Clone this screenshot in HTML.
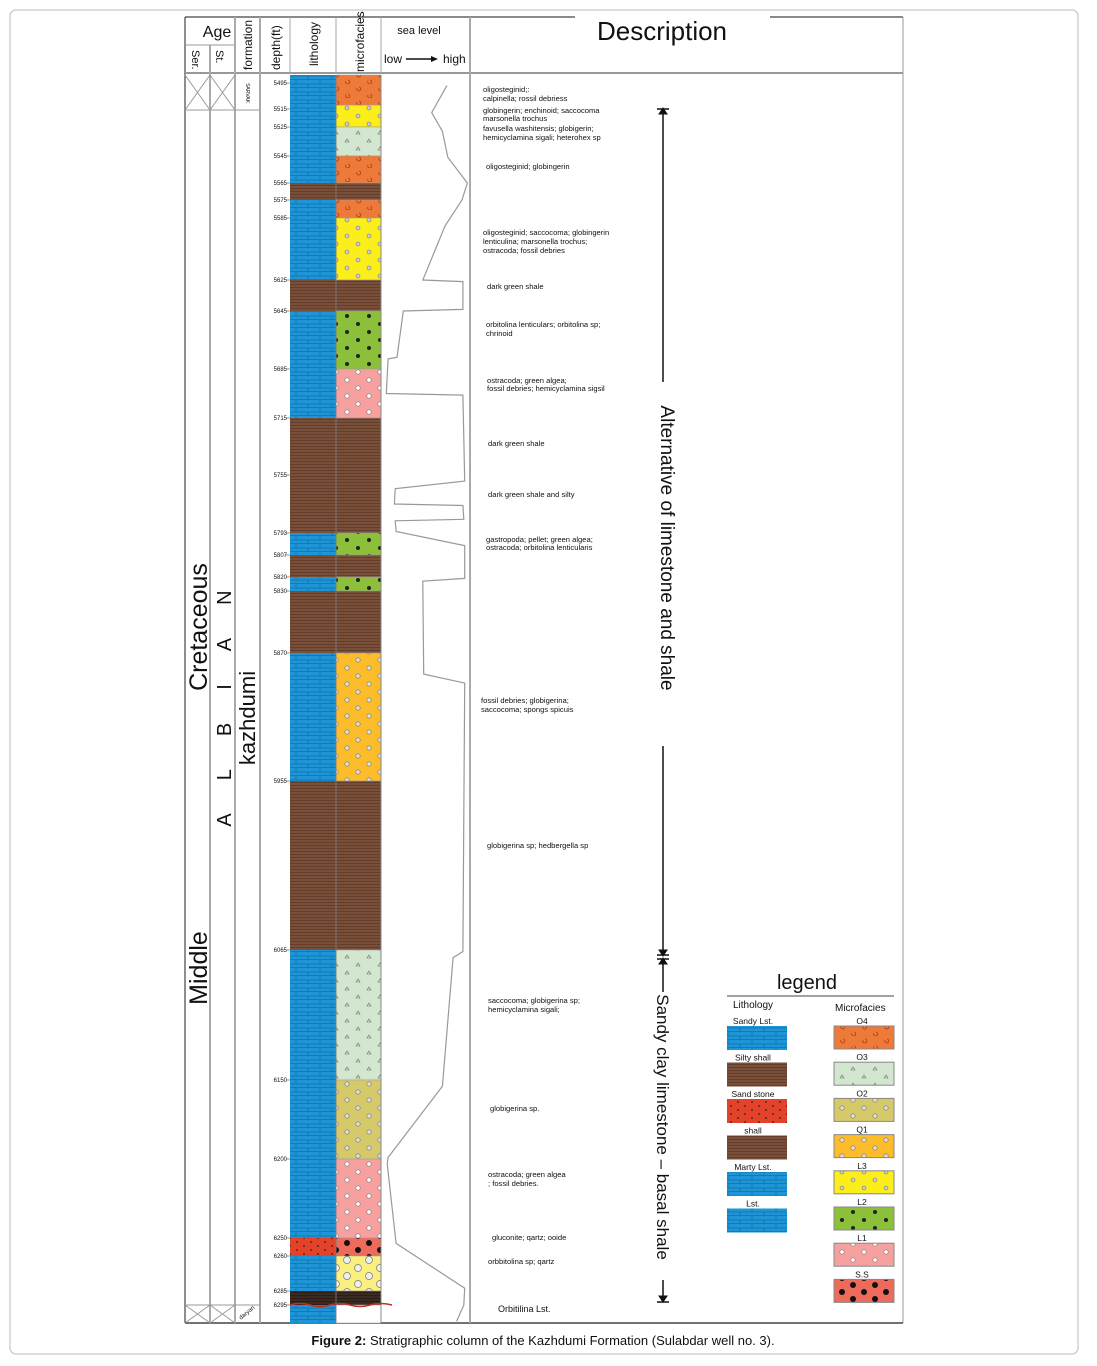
<!DOCTYPE html>
<html><head><meta charset="utf-8">
<style>
html,body{margin:0;padding:0;background:#fff;}
body{width:1097px;height:1361px;position:relative;overflow:hidden;font-family:"Liberation Sans",sans-serif;}
svg text{font-family:"Liberation Sans",sans-serif;}
</style></head>
<body>
<svg id="chart" width="1097" height="1361" viewBox="0 0 1097 1361" xmlns="http://www.w3.org/2000/svg">
<defs>
<pattern id="pBrick" width="24" height="8" patternUnits="userSpaceOnUse"><rect width="24" height="8" fill="#1e95d6"/><path d="M0 7.5H24M8 0V4M20 4V8M0 4H24" stroke="#1470a8" stroke-width="0.8" fill="none"/></pattern>
<pattern id="pShale" width="10" height="3" patternUnits="userSpaceOnUse"><rect width="10" height="3" fill="#7a4f3a"/><path d="M0 2.5H10" stroke="#5a3626" stroke-width="0.7"/></pattern>
<pattern id="pDark" width="10" height="3" patternUnits="userSpaceOnUse"><rect width="10" height="3" fill="#3a2a22"/><path d="M0 2.5H10" stroke="#221812" stroke-width="0.7"/></pattern>
<pattern id="pSand" width="14" height="8" patternUnits="userSpaceOnUse"><rect width="14" height="8" fill="#e4432a"/><circle cx="3" cy="2" r="0.9" fill="#222"/><circle cx="10" cy="6" r="0.9" fill="#222"/></pattern>
<pattern id="pO4" width="22" height="14" patternUnits="userSpaceOnUse"><rect width="22" height="14" fill="#ee7a3a"/><path d="M5 4a2 2 0 1 0 2 -1M16 11a2 2 0 1 0 2 -1" stroke="#b03a14" stroke-width="0.8" fill="none"/></pattern>
<pattern id="pO3" width="22" height="16" patternUnits="userSpaceOnUse"><rect width="22" height="16" fill="#d3e6cf"/><path d="M4 6l2 -3l2 3zM15 14l2 -3l2 3z" stroke="#666" stroke-width="0.6" fill="none"/></pattern>
<pattern id="pO2" width="22" height="16" patternUnits="userSpaceOnUse"><rect width="22" height="16" fill="#d6c96a"/><circle cx="6" cy="4" r="2.2" fill="#ddd" stroke="#777" stroke-width="0.6"/><circle cx="17" cy="12" r="2.2" fill="#ddd" stroke="#777" stroke-width="0.6"/></pattern>
<pattern id="pQ1" width="22" height="16" patternUnits="userSpaceOnUse"><rect width="22" height="16" fill="#fdbc2a"/><circle cx="6" cy="4" r="2.2" fill="#ddd" stroke="#777" stroke-width="0.6"/><circle cx="17" cy="12" r="2.2" fill="#ddd" stroke="#777" stroke-width="0.6"/></pattern>
<pattern id="pL3" width="22" height="16" patternUnits="userSpaceOnUse"><rect width="22" height="16" fill="#fbee1a"/><circle cx="6" cy="4" r="2" fill="#ccc" stroke="#777" stroke-width="0.6"/><circle cx="17" cy="12" r="2" fill="#ccc" stroke="#777" stroke-width="0.6"/></pattern>
<pattern id="pL2" width="22" height="16" patternUnits="userSpaceOnUse"><rect width="22" height="16" fill="#8cc03a"/><circle cx="6" cy="4" r="2" fill="#222"/><circle cx="17" cy="12" r="2" fill="#222"/></pattern>
<pattern id="pL1" width="22" height="16" patternUnits="userSpaceOnUse"><rect width="22" height="16" fill="#f6a0a0"/><circle cx="6" cy="4" r="2.2" fill="#fff" stroke="#777" stroke-width="0.6"/><circle cx="17" cy="12" r="2.2" fill="#fff" stroke="#777" stroke-width="0.6"/></pattern>
<pattern id="pSS" width="22" height="14" patternUnits="userSpaceOnUse"><rect width="22" height="14" fill="#ee6a5a"/><circle cx="6" cy="4" r="3" fill="#111"/><circle cx="17" cy="11" r="3" fill="#111"/></pattern>
<pattern id="pOol" width="22" height="16" patternUnits="userSpaceOnUse"><rect width="22" height="16" fill="#fbef80"/><circle cx="6" cy="4" r="3.5" fill="#eee" stroke="#777" stroke-width="0.7"/><circle cx="17" cy="12" r="3.5" fill="#eee" stroke="#777" stroke-width="0.7"/></pattern>
</defs>
<rect x="10" y="10" width="1068" height="1344" rx="6" fill="none" stroke="#bbb" stroke-width="1"/>
<g id="frame" stroke="#444" fill="none">
<line x1="185" y1="17" x2="575" y2="17" stroke-width="1.2"/>
<line x1="770" y1="17" x2="903" y2="17" stroke-width="1.2"/>
<line x1="185" y1="17" x2="185" y2="1323" stroke-width="1.2"/>
<line x1="903" y1="17" x2="903" y2="1323" stroke="#999"/>
<line x1="185" y1="1323" x2="903" y2="1323" stroke-width="1.5"/>
<line x1="185" y1="73" x2="903" y2="73" stroke="#999" stroke-width="2"/>
<line x1="185" y1="45" x2="235" y2="45" stroke="#999"/>
<line x1="210" y1="45" x2="210" y2="1323" stroke="#aaa" stroke-width="2"/>
<line x1="235" y1="17" x2="235" y2="1323" stroke="#aaa" stroke-width="2"/>
<line x1="260" y1="17" x2="260" y2="1323" stroke="#aaa" stroke-width="2"/>
<line x1="290" y1="17" x2="290" y2="73" stroke="#aaa"/>
<line x1="336" y1="17" x2="336" y2="73" stroke="#aaa"/>
<line x1="381" y1="17" x2="381" y2="73" stroke="#aaa"/>
<line x1="470" y1="17" x2="470" y2="1323" stroke="#aaa" stroke-width="2"/>
<line x1="185" y1="110" x2="260" y2="110" stroke="#999"/>
<line x1="185" y1="1305" x2="260" y2="1305" stroke="#999"/>
<path d="M185 75L210 110M210 75L185 110M210 75L235 110M235 75L210 110M185 1305L210 1323M210 1305L185 1323M210 1305L235 1323M235 1305L210 1323" stroke="#999"/>
</g>
<g fill="#111">
<text x="217" y="37" font-size="16" text-anchor="middle">Age</text>
<text transform="translate(192,50) rotate(90)" font-size="11">Ser.</text>
<text transform="translate(216,50) rotate(90)" font-size="11">St.</text>
<text transform="translate(252,70) rotate(-90)" font-size="12">formation</text>
<text transform="translate(280,70) rotate(-90)" font-size="12">depth(ft)</text>
<text transform="translate(318,66) rotate(-90)" font-size="12">lithology</text>
<text transform="translate(364,72) rotate(-90)" font-size="12">microfacies</text>
<text x="419" y="34" font-size="11" text-anchor="middle">sea level</text>
<text x="384" y="63" font-size="12">low</text>
<line x1="406" y1="59" x2="434" y2="59" stroke="#111" stroke-width="1.5"/>
<path d="M431 56L438 59L431 62Z" fill="#111"/>
<text x="443" y="63" font-size="12">high</text>
<text x="662" y="40" font-size="26" text-anchor="middle">Description</text>
</g>
<g fill="#111">
<text transform="translate(207,627) rotate(-90)" font-size="25" text-anchor="middle">Cretaceous</text>
<text transform="translate(207,968) rotate(-90)" font-size="25" text-anchor="middle">Middle</text>
<text transform="translate(231,692) rotate(-90)" font-size="20" text-anchor="middle" letter-spacing="33">ALBIAN</text>
<text transform="translate(255,718) rotate(-90)" font-size="22" text-anchor="middle">kazhdumi</text>
<text transform="translate(246,93) rotate(90)" font-size="5" text-anchor="middle">SARVAK</text>
<text transform="translate(248,1314) rotate(-40)" font-size="6" text-anchor="middle">daryan</text>
</g>
<g id="layers"></g>
<g id="ticks"></g>
<g id="sea"></g>
<g font-size="7.6" fill="#111">
<text x="483" y="92">oligosteginid;:</text><text x="483" y="101">calpinella; rossil debriess</text>
<text x="483" y="113">globingerin; enchinoid; saccocoma</text><text x="483" y="121">marsonella trochus</text><text x="483" y="131">favusella washitensis; globigerin;</text><text x="483" y="140">hemicyclamina sigali; heterohex sp</text>
<text x="486" y="169">oligosteginid; globingerin</text>
<text x="483" y="235">oligosteginid; saccocoma; globingerin</text><text x="483" y="244">lenticulina; marsonella trochus;</text><text x="483" y="253">ostracoda; fossil debries</text>
<text x="487" y="289">dark green shale</text>
<text x="486" y="327">orbitolina lenticulars; orbitolina sp;</text><text x="486" y="336">chrinoid</text>
<text x="487" y="383">ostracoda; green algea;</text><text x="487" y="391">fossil debries; hemicyclamina sigsil</text>
<text x="488" y="446">dark green shale</text>
<text x="488" y="497">dark green shale and silty</text>
<text x="486" y="542">gastropoda; pellet; green algea;</text><text x="486" y="550">ostracoda; orbitolina lenticularis</text>
<text x="481" y="703">fossil debries; globigerina;</text><text x="481" y="712">saccocoma; spongs spicuis</text>
<text x="487" y="848">globigerina sp; hedbergella sp</text>
<text x="488" y="1003">saccocoma; globigerina sp;</text><text x="488" y="1012">hemicyclamina sigali;</text>
<text x="490" y="1111">globigerina sp.</text>
<text x="488" y="1177">ostracoda; green algea</text><text x="488" y="1186">; fossil debries.</text>
<text x="492" y="1240">gluconite; qartz; ooide</text>
<text x="488" y="1264">orbbitolina sp; qartz</text>
<text x="498" y="1312" font-size="9">Orbitilina Lst.</text>
</g>
<g stroke="#111" fill="#111">
<line x1="663" y1="109" x2="663" y2="382" stroke-width="1.5"/>
<line x1="657" y1="109" x2="669" y2="109" stroke-width="1.5"/><path d="M659 114L663 108L667 114Z"/>
<line x1="663" y1="746" x2="663" y2="955" stroke-width="1.5"/>
<line x1="657" y1="955" x2="669" y2="955" stroke-width="1.5"/><path d="M659 950L663 956L667 950Z"/>
<line x1="657" y1="959" x2="669" y2="959" stroke-width="1.5"/><path d="M659 964L663 958L667 964Z"/>
<line x1="663" y1="959" x2="663" y2="992" stroke-width="1.5"/>
<line x1="663" y1="1280" x2="663" y2="1302" stroke-width="1.5"/>
<line x1="657" y1="1302" x2="669" y2="1302" stroke-width="1.5"/><path d="M659 1296L663 1302L667 1296Z"/>
<text transform="translate(661,548) rotate(90)" font-size="19" text-anchor="middle" stroke="none">Alternative of limestone and shale</text>
<text transform="translate(657,1127) rotate(90)" font-size="17" text-anchor="middle" stroke="none">Sandy clay limestone – basal shale</text>
</g>
<g fill="#111">
<text x="807" y="989" font-size="20" text-anchor="middle">legend</text>
<line x1="727" y1="996" x2="894" y2="996" stroke="#444" stroke-width="1"/>
<text x="733" y="1008" font-size="10">Lithology</text>
<text x="835" y="1011" font-size="10">Microfacies</text>
<g id="legLith"></g><g id="legMicro"></g>
</g>
<text x="543" y="1345" font-size="13" text-anchor="middle" fill="#111"><tspan font-weight="bold">Figure 2:</tspan> Stratigraphic column of the Kazhdumi Formation  (Sulabdar well no. 3).</text>
</svg>
<script>
// depth axis calibration (depth ft) - tick labels
const tickDepths=[5495,5515,5525,5545,5565,5575,5585,5625,5645,5685,5715,5755,5793,5807,5820,5830,5870,5955,6065,6150,6200,6250,6260,6285,6295];
// lithology intervals: top, bottom, type
const lithTop=[5488,5565,5575,5625,5645,5715,5793,5807,5820,5830,5870,5955,6065,6250,6260,6285,6295];
const lithBase=[5565,5575,5625,5645,5715,5793,5807,5820,5830,5870,5955,6065,6250,6260,6285,6295,6305];
const lithType=["lst","shale","lst","shale","lst","shale","lst","shale","lst","shale","lst","shale","lst","sand","lst","dark","lst"];
// microfacies intervals
const microTop=[5488,5512,5525,5545,5565,5575,5585,5625,5645,5685,5715,5793,5807,5820,5830,5870,5955,6065,6150,6200,6250,6260,6285,6295];
const microBase=[5512,5525,5545,5565,5575,5585,5625,5645,5685,5715,5793,5807,5820,5830,5870,5955,6065,6150,6200,6250,6260,6285,6295,6305];
const microType=["O4","L3","O3","O4","shale","O4","L3","shale","L2","L1","shale","L2","shale","L2","shale","Q1","shale","O3","O2","L1","SS","ool","dark","none"];
// sea level curve: depth and relative level (0 low .. 100 high)
const seaDepth=[5497,5517,5528,5546,5565,5575,5590,5625,5626,5644,5645,5677,5678,5700,5701,5759,5764,5774,5775,5784,5785,5792,5801,5821,5823,5884,5890,6066,6070,6154,6199,6203,6253,6283,6295,6304];
const seaLevel=[74,57,69,75,97,91,72,47,92,92,25,18,8,6,92,94,16,15,92,93,16,17,94,94,47,48,94,92,81,69,8,7,17,94,93,85];
const lithNames=["Sandy Lst.","Silty shall","Sand stone","shall","Marty Lst.","Lst."];
const lithLegType=["lst","shale","sand","shale","lst","lst"];
const microNames=["O4","O3","O2","Q1","L3","L2","L1","S.S"];
const microLegType=["O4","O3","O2","Q1","L3","L2","L1","SS"];

// axis: piecewise-linear depth->y calibrated on the printed depth labels
const calD=[5488,5495,5515,5525,5545,5565,5575,5585,5625,5645,5685,5715,5755,5793,5807,5820,5830,5870,5955,6065,6150,6200,6250,6260,6285,6295,6305];
const calY=[75,83,109,127,156,183,200,218,280,311,369,418,475,533,555,577,591,653,781,950,1080,1159,1238,1256,1291,1305,1323];
function yScale(d){
  if(d<=calD[0])return calY[0];
  for(let i=1;i<calD.length;i++){ if(d<=calD[i]){const t=(d-calD[i-1])/(calD[i]-calD[i-1]);return calY[i-1]+t*(calY[i]-calY[i-1]);} }
  return calY[calY.length-1];
}
function xSea(v){return 381+v/100*89;}
const fills={lst:"url(#pBrick)",shale:"url(#pShale)",dark:"url(#pDark)",sand:"url(#pSand)",O4:"url(#pO4)",O3:"url(#pO3)",O2:"url(#pO2)",Q1:"url(#pQ1)",L3:"url(#pL3)",L2:"url(#pL2)",L1:"url(#pL1)",SS:"url(#pSS)",ool:"url(#pOol)",none:"#fff"};
const NS="http://www.w3.org/2000/svg";
function mk(tag,attrs,parent){const e=document.createElementNS(NS,tag);for(const k in attrs)e.setAttribute(k,attrs[k]);parent.appendChild(e);return e;}
const gl=document.getElementById('layers');
for(let i=0;i<lithTop.length;i++){
  const y0=yScale(lithTop[i]),y1=yScale(lithBase[i]);
  const r=mk('rect',{x:290,y:y0,width:46,height:y1-y0,fill:fills[lithType[i]]},gl);
  
  
}
for(let i=0;i<microTop.length;i++){
  const y0=yScale(microTop[i]),y1=yScale(microBase[i]);
  const r=mk('rect',{x:336,y:y0,width:45,height:y1-y0,fill:fills[microType[i]],stroke:"#999","stroke-width":0.5},gl);
  
  
}
mk('line',{x1:336,y1:75,x2:336,y2:1323,stroke:"#777","stroke-width":0.8},gl);
mk('line',{x1:381,y1:75,x2:381,y2:1323,stroke:"#888","stroke-width":1},gl);
const rl=mk('path',{d:"M290 1305 Q300 1302 310 1305 T330 1305 T350 1305 T370 1305 T392 1305",stroke:"#c0302a","stroke-width":1.5,fill:"none"},gl);


const gt=document.getElementById('ticks');
tickDepths.forEach(d=>{
  const y=yScale(d);
  const t=mk('text',{x:287,y:y+2,"font-size":6,"text-anchor":"end",fill:"#111"},gt);
  t.textContent=d;
  
  
  mk('line',{x1:286,y1:y,x2:290,y2:y,stroke:"#555","stroke-width":0.6},gt);
});
const gs=document.getElementById('sea');
const pts=seaDepth.map((d,i)=>xSea(seaLevel[i]).toFixed(1)+","+yScale(d).toFixed(1)).join(" ");
const pl=mk('polyline',{points:pts,fill:"none",stroke:"#999","stroke-width":1.2},gs);


const ll=document.getElementById('legLith');
lithNames.forEach((n,i)=>{
  const y=1026+i*36.5;
  const t=mk('text',{x:753,y:y-2,"font-size":8.5,"text-anchor":"middle",fill:"#111"},ll);t.textContent=n;
  
  
  const r=mk('rect',{x:727,y:y,width:60,height:24,fill:fills[lithLegType[i]]},ll);
  
  
});
const lm=document.getElementById('legMicro');
microNames.forEach((n,i)=>{
  const y=1026+i*36.2;
  const t=mk('text',{x:862,y:y-2,"font-size":8.5,"text-anchor":"middle",fill:"#111"},lm);t.textContent=n;
  
  
  const r=mk('rect',{x:834,y:y,width:60,height:23,fill:fills[microLegType[i]],stroke:"#888","stroke-width":1},lm);
  
  
});
</script>
</body></html>
